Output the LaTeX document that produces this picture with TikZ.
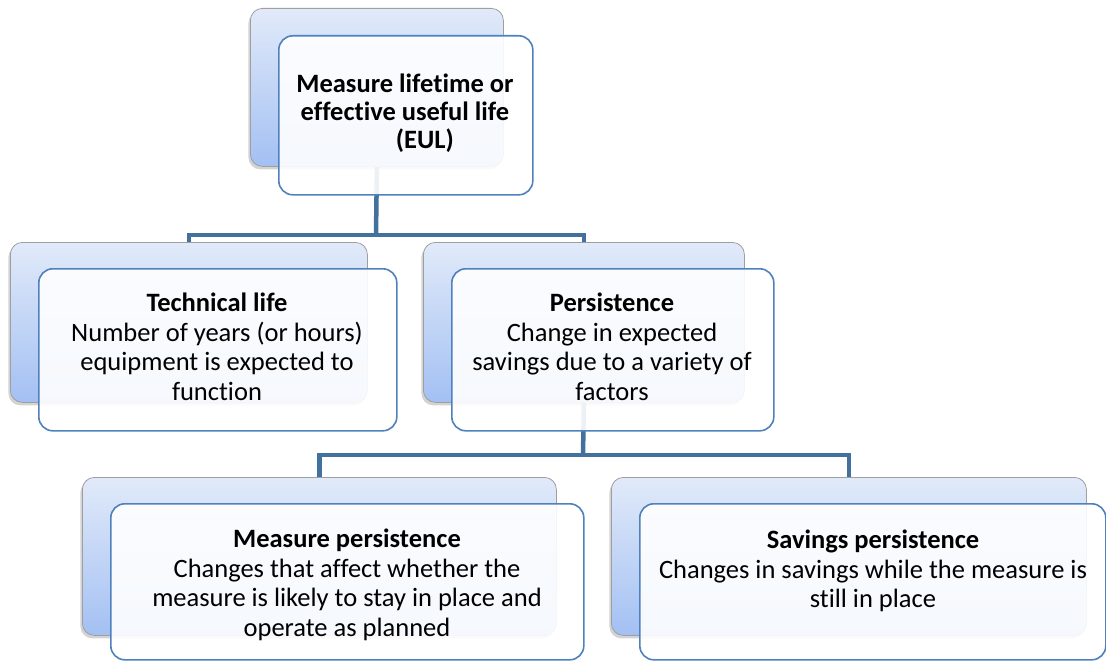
\documentclass[tikz,border=0pt]{standalone}
\usepackage{fontspec}
\setmainfont{Carlito}[Ligatures=NoCommon]
\usetikzlibrary{shadows}
\definecolor{bt}{HTML}{E1EAF9}
\definecolor{bb}{HTML}{A3C0F3}
\definecolor{fb}{HTML}{4F81BD}
\definecolor{cc}{HTML}{41719C}
\tikzset{
  backbox/.style={draw=gray!75, line width=0.8pt, rounded corners=12pt, top color=bt, bottom color=bb,
    anchor=north west, inner sep=0pt, drop shadow={shadow xshift=-2pt, shadow yshift=-3pt, opacity=0.35}},
  frontbox/.style={draw=fb, line width=1.6pt, rounded corners=14pt, fill=white, fill opacity=0.9,
    anchor=north west, inner sep=0pt},
  conn/.style={draw=cc, line width=4.5pt},
  txt/.style={align=center, font=\fontsize{26.5}{29.5}\selectfont, text=black, inner sep=0pt}
}
\begin{document}
\begin{tikzpicture}[x=1pt,y=-1pt]
\useasboundingbox (0,0) rectangle (1106,661);
% back boxes
\path (250,8) node[backbox, minimum width=253pt, minimum height=158pt] (tb) {};
\path (10,242) node[backbox, minimum width=357pt, minimum height=160pt] (lb) {};
\path (423,242) node[backbox, minimum width=321pt, minimum height=160pt] (rb) {};
\path (82,477) node[backbox, minimum width=474pt, minimum height=158pt] (blb) {};
\path (611,477) node[backbox, minimum width=475pt, minimum height=158pt] (brb) {};
% connectors
\coordinate (j1) at (376,235);
\coordinate (j2) at (583,455);
\draw[conn] (tb.south) -- (j1);
\draw[conn] (lb.north) |- (j1) -| (rb.north);
\draw[conn] (rb.south) -- (j2);
\draw[conn] (blb.north) |- (j2) -| (brb.north);
% front boxes
\path (278,35) node[frontbox, minimum width=254pt, minimum height=159pt] (tf) {};
\path (38,268) node[frontbox, minimum width=358pt, minimum height=162pt] (lf) {};
\path (451,268) node[frontbox, minimum width=322pt, minimum height=162pt] (rf) {};
\path (110,503) node[frontbox, minimum width=473pt, minimum height=156pt] (blf) {};
\path (639,503) node[frontbox, minimum width=466pt, minimum height=156pt] (brf) {};
% texts
\node[txt, font=\fontsize{26.5}{28}\selectfont\bfseries] (tt) at (405,113) {Measure lifetime or\\effective useful life\\\hspace*{1.5em}(EUL)};
\node[txt] (lt) at (217,347) {\textbf{Technical life}\\Number of years (or hours)\\equipment is expected to\\function};
\node[txt] (rt) at (612,347) {\textbf{Persistence}\\Change in expected\\savings due to a variety of\\factors};
\node[txt] (blt) at (347,585) {\textbf{Measure persistence}\\Changes that affect whether the\\measure is likely to stay in place and\\operate as planned};
\node[txt] (brt) at (873,571) {\textbf{Savings persistence}\\Changes in savings while the measure is\\still in place};
\end{tikzpicture}
\end{document}
